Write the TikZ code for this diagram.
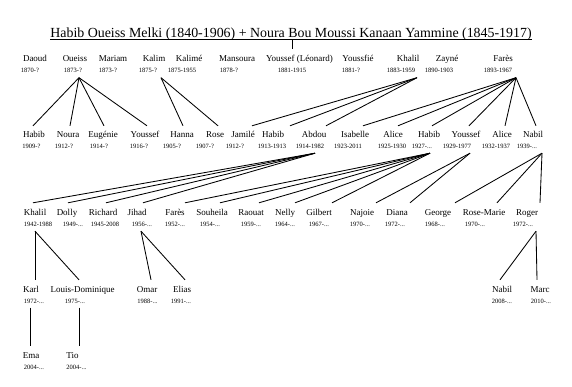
\documentclass[tikz,border=0pt]{standalone}
\usepackage{fontspec}
\setmainfont{Liberation Serif}
\newcommand{\alive}{...}
\begin{document}
\begin{tikzpicture}[x=1pt,y=-1pt]
    \tikzset{
      ttl/.style={anchor=base, inner sep=0pt, font=\fontsize{13.9}{15}\selectfont},
      nm/.style={anchor=base, inner xsep=0pt, inner ysep=5pt, text height=7pt, font=\fontsize{9}{10}\selectfont},
      dt/.style={anchor=base, inner xsep=0pt, inner ysep=4.5pt, text depth=0pt, font=\fontsize{6.5}{7}\selectfont},
      ln/.style={line width=0.85pt}
    }
    \useasboundingbox (0,0) rectangle (572,387);
    \node[ttl] (title) at (291,37.5) {Habib Oueiss Melki (1840-1906) + Noura Bou Moussi Kanaan Yammine (1845-1917)};
    \draw[line width=0.7pt] ([yshift=-2pt]title.base west) -- ([yshift=-2pt]title.base east);
    \coordinate (root) at (292,49);
    \draw[line width=0.7pt] ([xshift=1pt,yshift=-2pt]title.base) -- (root);
    % generation 1
    \foreach \id/\nx/\dx/\nm/\dt in {daoud/35/30/Daoud/1870-?, oueiss/75/73/Oueiss/1873-?,
        mariam/113/108/Mariam/1873-?, kalim/154/148/Kalim/1875-?, kalime/189/182/Kalimé/1875-1955,
        mansoura/237/229/Mansoura/1878-?, youssef/299.5/292/{Youssef (Léonard)}/1881-1915,
        youssfie/358/351/Youssfié/1881-?, khalil/408/401/Khalil/1883-1959,
        zayne/447/439/Zayné/1890-1903, fares/503/498/Farès/1893-1967} {
      \node[nm] (\id) at (\nx,62) {\nm};
      \node[dt] (\id-d) at (\dx,73) {\dt};
    }
    % generation 2
    \foreach \id/\nx/\dx/\nm/\dt in {habibA/34/31.5/Habib/1909-?, nouraA/68/64/Noura/1912-?,
        eugenie/103/99/Eugénie/1914-?, youssefA/145/139/Youssef/1916-?, hanna/182/172/Hanna/1905-?,
        rose/215/205/Rose/1907-?, jamile/243/235/Jamilé/1912-?, habibB/273/272/Habib/1913-1913,
        abdou/314/310/Abdou/1914-1982, isabelle/355/348/Isabelle/1923-2011,
        aliceA/393/392/Alice/1925-1930, habibC/429/422/Habib/1927-\alive,
        youssefB/466/457/Youssef/1929-1977, aliceB/502/496/Alice/1932-1937,
        nabilA/533/527/Nabil/1939-\alive} {
      \node[nm] (\id) at (\nx,138) {\nm};
      \node[dt] (\id-d) at (\dx,148.5) {\dt};
    }
    % generation 3
    \foreach \id/\nx/\dx/\nm/\dt in {khalilB/35/38/Khalil/1942-1988, dolly/67/73/Dolly/1949-\alive,
        richard/103/105/Richard/1945-2008, jihad/137/142/Jihad/1956-\alive, faresB/175/175/Farès/1952-\alive,
        souheila/212/210/Souheila/1954-\alive, raouat/251/251/Raouat/1959-\alive, nelly/285/285/Nelly/1964-\alive,
        gilbert/319/319/Gilbert/1967-\alive, najoie/362/360/Najoie/1970-\alive, diana/397/395/Diana/1972-\alive,
        george/438/435/George/1968-\alive, rosemarie/484/475/Rose-Marie/1970-\alive, roger/527/523/Roger/1972-\alive} {
      \node[nm] (\id) at (\nx,215) {\nm};
      \node[dt] (\id-d) at (\dx,226.5) {\dt};
    }
    % generation 4
    \foreach \id/\nx/\dx/\nm/\dt in {karl/31/34/Karl/1972-\alive, louis/82.5/75/Louis-Dominique/1975-\alive,
        omar/147/147.5/Omar/1988-\alive, elias/182/181/Elias/1991-\alive,
        nabilB/502/502/Nabil/2008-\alive, marc/540/541/Marc/2010-\alive} {
      \node[nm] (\id) at (\nx,292) {\nm};
      \node[dt] (\id-d) at (\dx,303) {\dt};
    }
    % generation 5
    \foreach \id/\nx/\dx/\nm/\dt in {ema/31/34/Ema/2004-\alive, tio/72.5/76.5/Tio/2004-\alive} {
      \node[nm] (\id) at (\nx,358) {\nm};
      \node[dt] (\id-d) at (\dx,369) {\dt};
    }
    % parent -> children
    \foreach \p/\a/\kids in {oueiss/6/{habibA/-1,nouraA/2,eugenie/1,youssefA/2},
        kalim/13/{hanna/1,rose/3},
        khalil/16/{jamile/9,habibB/17,abdou/12},
        fares/18/{isabelle/8,aliceA/5,habibC/3,youssefB/3,aliceB/3,nabilA/3},
        abdou/5/{khalilB/-2,dolly/1,richard/3,jihad/6},
        habibC/8/{faresB/10,souheila/8,raouat/8,nelly/10,gilbert/13},
        youssefB/13/{najoie/14,diana/13},
        nabilA/15/{george/17,rosemarie/13,roger/13},
        khalilB/-3/{karl/4,louis/-3.5},
        jihad/-1/{omar/4,elias/3},
        roger/13/{nabilB/-2,marc/-3},
        karl/-4/{ema/-1},
        louis/4/{tio/6.5}} {
      \foreach \c/\s in \kids {
        \draw[ln] ([xshift=\a pt]\p-d.south) -- ([xshift=\s pt]\c.north);
      }
    }
  \end{tikzpicture}
\end{document}
